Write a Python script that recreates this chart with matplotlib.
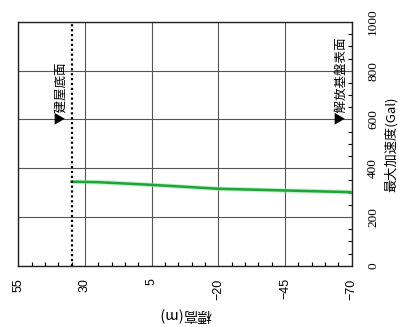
import matplotlib
matplotlib.use("Agg")
import matplotlib.pyplot as plt
from matplotlib.ticker import MultipleLocator

# Data (elevation in m, max acceleration in Gal)
elevation = [35, 25, 5, -20, -45, -70]
max_acc = [345, 343, 332, 316, 309, 302]
elev_ticks = [55, 30, 5, -20, -45, -70]
acc_ticks = [0, 200, 400, 600, 800, 1000]
building_base = 35
bedrock_surface = -70

jp = ['Noto Sans CJK JP', 'DejaVu Sans']

fig = plt.figure(figsize=(3.98, 3.27), dpi=100)
ax = fig.add_axes([0.046, 0.187, 0.838, 0.746])

ax.set_xlim(55, -70)
ax.set_ylim(0, 1000)

ax.plot(elevation, max_acc, color='#8ee89a', lw=3.2, solid_capstyle='butt', alpha=0.6, zorder=3)
ax.plot(elevation, max_acc, color='#1fa33a', lw=1.8, zorder=4)
ax.axvline(building_base, color='black', lw=1.6, ls=(0, (1, 1.2)), zorder=5)

ax.set_xticks(elev_ticks)
ax.set_xticklabels([str(t).replace('-', '−') for t in elev_ticks], rotation=90,
                   family=['Liberation Sans'], fontsize=9)
ax.xaxis.set_minor_locator(MultipleLocator(5))
ax.yaxis.tick_right()
ax.yaxis.set_label_position('right')
ax.set_yticks(acc_ticks)
ax.set_yticklabels([str(t) for t in acc_ticks], rotation=90, va='center',
                   family=['Liberation Serif'], fontsize=9.5)
ax.yaxis.set_minor_locator(MultipleLocator(50))

ax.tick_params(axis='x', which='both', direction='in', top=False, bottom=True, pad=9)
ax.tick_params(axis='x', which='major', length=0)
ax.tick_params(axis='x', which='minor', length=3, width=0.8)
ax.tick_params(axis='y', which='both', direction='in', left=False, right=True, pad=11)
ax.tick_params(axis='y', which='major', length=0)
ax.tick_params(axis='y', which='minor', length=3, width=0.8)

ax.grid(True, which='major', color='#555555', lw=0.8)
for s in ax.spines.values():
    s.set_linewidth(1.0)
    s.set_color('#222222')

ax.set_xlabel('標高(m)', family=jp, fontsize=10.5, rotation=180, labelpad=6)
ax.set_ylabel('最大加速度(Gal)', family=jp, fontsize=9.5, rotation=90, labelpad=4)

ax.text(building_base + 1.5, 580, '▼建屋底面', family=jp, fontsize=9, rotation=90,
        rotation_mode='anchor', ha='left', va='bottom', zorder=6)
ax.text(bedrock_surface + 1.5, 580, '▼解放基盤表面', family=jp, fontsize=9, rotation=90,
        rotation_mode='anchor', ha='left', va='bottom', zorder=6)

fig.savefig('out.png', dpi=100)
